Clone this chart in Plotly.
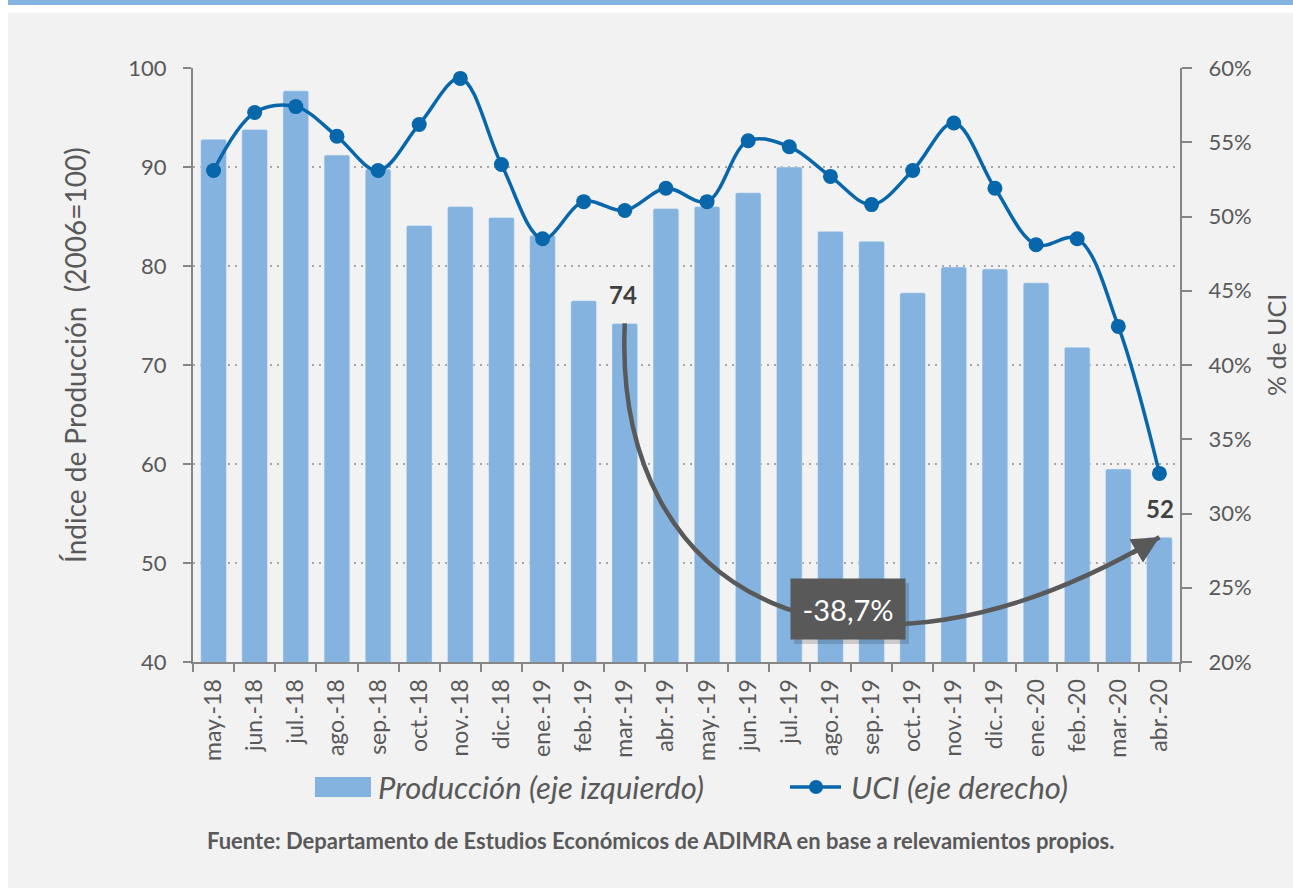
import plotly.graph_objects as go

meses = ["may.-18", "jun.-18", "jul.-18", "ago.-18", "sep.-18", "oct.-18",
         "nov.-18", "dic.-18", "ene.-19", "feb.-19", "mar.-19", "abr.-19",
         "may.-19", "jun.-19", "jul.-19", "ago.-19", "sep.-19", "oct.-19",
         "nov.-19", "dic.-19", "ene.-20", "feb.-20", "mar.-20", "abr.-20"]

produccion = [92.8, 93.8, 97.7, 91.2, 89.8, 84.1, 86.0, 84.9, 83.1, 76.5, 74.2, 85.8,
              86.0, 87.4, 90.0, 83.5, 82.5, 77.3, 79.9, 79.7, 78.3, 71.8, 59.5, 52.6]

uci = [53.1, 57.0, 57.4, 55.4, 53.1, 56.2, 59.3, 53.5, 48.5, 51.0, 50.4, 51.9,
       51.0, 55.1, 54.7, 52.7, 50.8, 53.1, 56.3, 51.9, 48.1, 48.5, 42.6, 32.7]

izq_ticks = [40, 50, 60, 70, 80, 90, 100]
der_ticks = [20, 25, 30, 35, 40, 45, 50, 55, 60]

nombre_prod = "Producción (eje izquierdo)"
nombre_uci = "UCI (eje derecho)"
i_ini, i_fin = meses.index("mar.-19"), meses.index("abr.-20")
variacion = "-38,7%"

GRIS_TXT = "#595959"
GRIS_EJE = "#868686"
AZUL_BAR = "#85B3E0"
AZUL_LIN = "#0866AA"
FONT = "Lato"

# pixel layout of the plot area
L, R, T, B = 193, 113, 68, 226
W, H = 1293, 888
PW, PH = W - L - R, H - T - B


def px(x):
    return (x - L) / PW


def py(y):
    return (H - B - y) / PH


fig = go.Figure()

fig.add_trace(go.Bar(
    x=meses, y=produccion, name=nombre_prod,
    marker=dict(color=AZUL_BAR, cornerradius=2), yaxis="y",
))

fig.add_trace(go.Scatter(
    x=meses, y=uci, name=nombre_uci, mode="lines+markers",
    line=dict(color=AZUL_LIN, width=3.5, shape="spline", smoothing=1),
    marker=dict(color=AZUL_LIN, size=15), yaxis="y2",
))

n = len(meses)
ymin, ymax = izq_ticks[0], izq_ticks[-1]
x0a, y0a = (i_ini + 0.5) / n, (produccion[i_ini] - ymin) / (ymax - ymin)
x1a, y1a = (i_fin + 0.5) / n, (produccion[i_fin] - ymin) / (ymax - ymin)

shapes = [
    # panel + top band
    dict(type="rect", xref="paper", yref="paper", x0=px(8), x1=px(W + 5),
         y0=py(H + 5), y1=py(13), fillcolor="#F2F2F2", line_width=0, layer="below"),
    dict(type="rect", xref="paper", yref="paper", x0=px(8), x1=px(W + 5),
         y0=py(5), y1=py(-5), fillcolor="#85B3E0", line_width=0, layer="below"),
    # shadow of the box
    dict(type="rect", xref="paper", yref="paper", x0=px(794), x1=px(909),
         y0=py(644), y1=py(583), fillcolor="rgba(0,0,0,0.16)", line_width=0),
    # curved arrow
    dict(type="path", xref="paper", yref="paper",
         path=f"M {x0a},{y0a} C {px(612)},{py(600)} {px(850)},{py(720)} {x1a},{y1a}",
         line=dict(color=GRIS_TXT, width=4.5)),
    # legend icons
    dict(type="rect", xref="paper", yref="paper", x0=px(315), x1=px(371),
         y0=py(797), y1=py(777), fillcolor=AZUL_BAR, line_width=0),
    dict(type="line", xref="paper", yref="paper", x0=px(790), x1=px(841),
         y0=py(787), y1=py(787), line=dict(color=AZUL_LIN, width=3.5)),
    dict(type="circle", xref="paper", yref="paper", xsizemode="pixel", ysizemode="pixel",
         xanchor=px(816), yanchor=py(787), x0=-7, x1=7, y0=-7, y1=7,
         fillcolor=AZUL_LIN, line_width=0),
]

annotations = [
    dict(x=meses[i_fin], y=produccion[i_fin], xref="x", yref="y", text="",
         showarrow=True, arrowhead=2, arrowsize=1.2, arrowwidth=4.5, arrowcolor=GRIS_TXT,
         ax=-29, ay=17, standoff=0),
    dict(x=meses[i_ini], y=produccion[i_ini], xref="x", yref="y", text="<b>74</b>",
         showarrow=False, yanchor="bottom", yshift=12, xshift=-2,
         font=dict(family=FONT, size=24, color="#404040")),
    dict(x=meses[i_fin], y=produccion[i_fin], xref="x", yref="y", text="<b>52</b>",
         showarrow=False, yanchor="bottom", yshift=12, xshift=1,
         font=dict(family=FONT, size=24, color="#404040")),
    dict(x=(px(791) + px(905)) / 2, y=(py(579) + py(639)) / 2, xref="paper", yref="paper",
         xanchor="center", yanchor="middle",
         text=variacion, showarrow=False, bgcolor=GRIS_TXT, width=114, height=60,
         borderpad=0, font=dict(family=FONT, size=29, color="white")),
    dict(x=px(75), y=py(355), xref="paper", yref="paper", textangle=-90,
         xanchor="center", yanchor="middle",
         text="Índice de Producción\u00a0 (2006=100)", showarrow=False,
         font=dict(family=FONT, size=28, color=GRIS_TXT)),
    dict(x=px(1276), y=py(345), xref="paper", yref="paper", textangle=-90,
         xanchor="center", yanchor="middle",
         text="% de UCI", showarrow=False,
         font=dict(family=FONT, size=25, color=GRIS_TXT)),
    dict(x=px(376), y=py(787), xref="paper", yref="paper", xanchor="left", yanchor="middle",
         text=f"<i>{nombre_prod}</i>", showarrow=False,
         font=dict(family=FONT, size=31, color=GRIS_TXT)),
    dict(x=px(849), y=py(787), xref="paper", yref="paper", xanchor="left", yanchor="middle",
         text=f"<i>{nombre_uci}</i>", showarrow=False,
         font=dict(family=FONT, size=31, color=GRIS_TXT)),
    dict(x=px(661), y=py(840), xref="paper", yref="paper", xanchor="center", yanchor="middle",
         text="<b>Fuente: Departamento de Estudios Económicos de ADIMRA en base a relevamientos propios.</b>",
         showarrow=False, font=dict(family=FONT, size=22, color=GRIS_TXT)),
]

fig.update_layout(
    width=W, height=H,
    margin=dict(l=L, r=R, t=T, b=B),
    paper_bgcolor="white", plot_bgcolor="rgba(0,0,0,0)",
    font=dict(family=FONT, color=GRIS_TXT),
    bargap=0.375,
    showlegend=False,
    xaxis=dict(
        type="category", range=[-0.5, n - 0.5], tickangle=-90, tickson="boundaries",
        ticks="outside", ticklen=8, tickcolor=GRIS_EJE, tickwidth=2, showline=True,
        linecolor=GRIS_EJE, linewidth=2, showgrid=False, ticklabelstandoff=6,
        tickfont=dict(family=FONT, size=23, color=GRIS_TXT),
    ),
    yaxis=dict(
        range=[ymin, ymax], tickvals=izq_ticks, ticks="outside", ticklen=8,
        tickcolor=GRIS_EJE, tickwidth=2, showline=True, linecolor=GRIS_EJE, linewidth=2,
        showgrid=True, gridcolor="#A6A6A6", gridwidth=2, griddash="2px,5px",
        zeroline=False, ticklabelstandoff=12,
        tickfont=dict(family=FONT, size=22, color=GRIS_TXT),
    ),
    yaxis2=dict(
        range=[der_ticks[0], der_ticks[-1]], tickvals=der_ticks,
        ticktext=[f"{v}%" for v in der_ticks], overlaying="y", side="right",
        ticks="outside", ticklen=10, tickcolor=GRIS_EJE, tickwidth=2, showline=True,
        linecolor=GRIS_EJE, linewidth=2, showgrid=False, zeroline=False,
        ticklabelstandoff=12, tickfont=dict(family=FONT, size=22, color=GRIS_TXT),
    ),
    shapes=shapes,
    annotations=annotations,
)

fig.write_html(
    "out.html",
    config={"displayModeBar": False},
    post_script="document.body.style.margin='0';document.body.style.overflow='hidden';",
)
